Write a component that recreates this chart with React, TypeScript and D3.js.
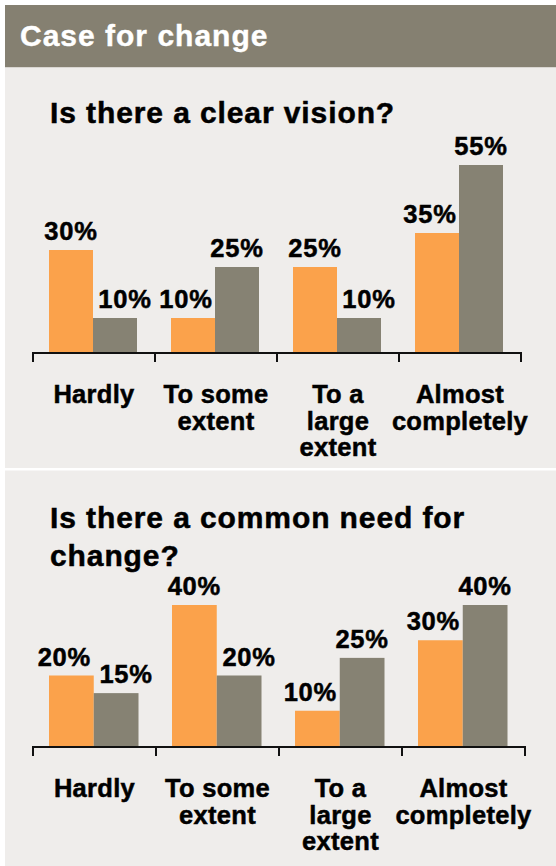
import React from "react";
import * as d3 from "d3";

// ---- data ----
const categories = ["Hardly", "To some extent", "To a large extent", "Almost completely"];
const categoryLines = [["Hardly"], ["To some", "extent"], ["To a", "large", "extent"], ["Almost", "completely"]];
const seriesKeys = ["first", "second"];

const visionFirst = [30, 10, 25, 35];
const visionSecond = [10, 25, 10, 55];
const needFirst = [20, 40, 10, 30];
const needSecond = [15, 20, 25, 40];

const headerTitle = "Case for change";
const visionTitle = ["Is there a clear vision?"];
const needTitle = ["Is there a common need for", "change?"];

// ---- style ----
const W = 556;
const H = 866;
const ORANGE = "#FBA24B";
const GRAY = "#868273";
const HEADER = "#858071";
const PANEL = "#EFEDEB";
const FONT = "'Liberation Sans', Arial, Helvetica, sans-serif";

type PanelProps = {
  top: number;
  bottom: number;
  titleLines: string[];
  titleY: number;
  first: number[];
  second: number[];
  yMax: number;
  y0: number;
  yTop: number;
  xStart: number;
  xEnd: number;
  rightInset: number;
};

function Panel(p: PanelProps) {
  const x0 = d3.scaleBand<string>().domain(categories).range([p.xStart, p.xEnd]);
  const x1 = d3
    .scaleBand<string>()
    .domain(seriesKeys)
    .range([16, x0.bandwidth() - p.rightInset]);
  const y = d3.scaleLinear().domain([0, p.yMax]).range([p.y0, p.yTop]);
  const colors = [ORANGE, GRAY];
  const valuesBySeries = [p.first, p.second];

  const ticks = categories.map((c) => x0(c) as number).concat([p.xEnd]);

  return (
    <g>
      <rect x={5} y={p.top} width={W - 5} height={p.bottom - p.top} fill={PANEL} />
      {p.titleLines.map((t, i) => (
        <text
          key={i}
          x={50}
          y={p.titleY + i * 38}
          fontFamily={FONT}
          fontWeight="bold"
          fontSize={30}
          letterSpacing={0.9}
          fill="#000"
          stroke="#000"
          strokeWidth={0.5}
        >
          {t}
        </text>
      ))}
      {categories.map((c, ci) => {
        const hA = p.y0 - y(p.first[ci]);
        const hB = p.y0 - y(p.second[ci]);
        let nudge = [0, 0];
        if (hB > hA) nudge[0] = -7;
        if (hA > hB) nudge[1] = 10;
        if (hA !== hB && Math.abs(hA - hB) < 26) nudge = [-7, 10];
        return (
          <g key={c} transform={`translate(${x0(c)},0)`}>
            {seriesKeys.map((s, si) => {
              const v = valuesBySeries[si][ci];
              const bx = x1(s) as number;
              const bw = x1.bandwidth();
              return (
                <g key={s}>
                  <rect x={bx} y={y(v)} width={bw} height={p.y0 - y(v)} fill={colors[si]} />
                  <text
                    x={bx + bw / 2 + nudge[si]}
                    y={y(v) - 10}
                    textAnchor="middle"
                    fontFamily={FONT}
                    fontWeight="bold"
                    fontSize={25.5}
                    letterSpacing={0.8}
                    fill="#000"
                    stroke="#000"
                    strokeWidth={0.5}
                  >
                    {v}%
                  </text>
                </g>
              );
            })}
            {categoryLines[ci].map((line, li) => (
              <text
                key={li}
                x={x0.bandwidth() / 2}
                y={p.y0 + 51 + li * 26.7}
                textAnchor="middle"
                fontFamily={FONT}
                fontWeight="bold"
                fontSize={25.5}
                letterSpacing={0.3}
                fill="#000"
                stroke="#000"
                strokeWidth={0.5}
              >
                {line}
              </text>
            ))}
          </g>
        );
      })}
      <line x1={p.xStart - 1} x2={p.xEnd + 1} y1={p.y0 + 1} y2={p.y0 + 1} stroke="#111" strokeWidth={2} />
      {ticks.map((t, i) => (
        <line key={i} x1={t} x2={t} y1={p.y0} y2={p.y0 + 10} stroke="#111" strokeWidth={2} />
      ))}
    </g>
  );
}

export default function App() {
  return (
    <svg
      width={W}
      height={H}
      viewBox={`0 0 ${W} ${H}`}
      style={{ position: "absolute", left: 0, top: 0, background: "#fff" }}
    >
      <rect x={0} y={0} width={W} height={H} fill="#fff" />
      <rect x={5} y={5} width={W - 5} height={62.5} fill={HEADER} />
      <text
        x={20}
        y={45.5}
        fontFamily={FONT}
        fontWeight="bold"
        fontSize={30}
        letterSpacing={1}
        fill="#fff"
        stroke="#fff"
        strokeWidth={0.4}
      >
        {headerTitle}
      </text>
      <Panel
        top={67.5}
        bottom={468}
        titleLines={visionTitle}
        titleY={123}
        first={visionFirst}
        second={visionSecond}
        yMax={55}
        y0={352}
        yTop={165}
        xStart={33}
        xEnd={521}
        rightInset={18}
      />
      <Panel
        top={470.5}
        bottom={H}
        titleLines={needTitle}
        titleY={527.5}
        first={needFirst}
        second={needSecond}
        yMax={40}
        y0={746}
        yTop={605}
        xStart={33}
        xEnd={525}
        rightInset={17.5}
      />
    </svg>
  );
}
